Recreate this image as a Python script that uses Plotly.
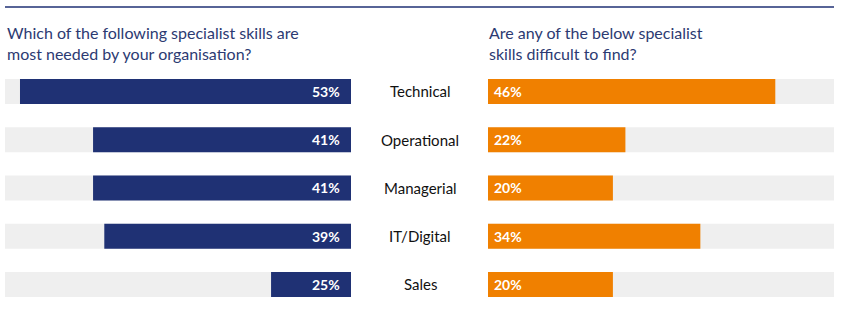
import plotly.graph_objects as go

# ---- data ----
categories = ["Technical", "Operational", "Managerial", "IT/Digital", "Sales"]
needed_labels = [53, 41, 41, 39, 25]          # printed values (left)
needed_bars = [53, 41.3, 41.3, 39.5, 12.8]     # drawn bar lengths (left)
difficult_labels = [46, 22, 20, 34, 20]       # printed values (right)
difficult_bars = [46, 22, 20, 34, 20]          # drawn bar lengths (right)
track_max = 55.4

title_left = "Which of the following specialist skills are<br>most needed by your organisation?"
title_right = "Are any of the below specialist<br>skills difficult to find?"

NAVY = "#1f3174"
ORANGE = "#f08000"
GREY = "#efefef"
FONT = "Lato"

W, H = 853, 327

fig = go.Figure()

# grey tracks
fig.add_trace(go.Bar(y=categories, x=[track_max] * len(categories), orientation="h",
                     marker=dict(color=GREY, line=dict(width=0)), xaxis="x", yaxis="y",
                     hoverinfo="skip", showlegend=False, width=0.518))
fig.add_trace(go.Bar(y=categories, x=[track_max] * len(categories), orientation="h",
                     marker=dict(color=GREY, line=dict(width=0)), xaxis="x2", yaxis="y2",
                     hoverinfo="skip", showlegend=False, width=0.518))
# value bars
fig.add_trace(go.Bar(y=categories, x=needed_bars, orientation="h",
                     marker=dict(color=NAVY, line=dict(width=0)), xaxis="x", yaxis="y",
                     showlegend=False, width=0.518))
fig.add_trace(go.Bar(y=categories, x=difficult_bars, orientation="h",
                     marker=dict(color=ORANGE, line=dict(width=0)), xaxis="x2", yaxis="y2",
                     showlegend=False, width=0.518))

ann = []
for c, v in zip(categories, needed_labels):
    ann.append(dict(x=0, y=c, xref="x", yref="y", text=f"<b>{v}%</b>", showarrow=False,
                    xanchor="right", xshift=-9, font=dict(family=FONT, size=14, color="white")))
for c, v in zip(categories, difficult_labels):
    ann.append(dict(x=0, y=c, xref="x2", yref="y2", text=f"<b>{v}%</b>", showarrow=False,
                    xanchor="left", xshift=4, font=dict(family=FONT, size=14, color="white")))
for c in categories:
    ann.append(dict(x=420 / W, y=c, xref="paper", yref="y", text=c, showarrow=False,
                    xanchor="center", font=dict(family=FONT, size=15, color="#111111")))

ann.append(dict(x=5 / W, y=1 - 21 / H, xref="paper", yref="paper", text=title_left,
                showarrow=False, xanchor="left", yanchor="top", align="left",
                font=dict(family=FONT, size=16, color="#2c3a72")))
ann.append(dict(x=487 / W, y=1 - 21 / H, xref="paper", yref="paper", text=title_right,
                showarrow=False, xanchor="left", yanchor="top", align="left",
                font=dict(family=FONT, size=16, color="#2c3a72")))

yrange = [4.881, -1.896]
fig.update_layout(
    width=W, height=H,
    margin=dict(l=0, r=0, t=0, b=0),
    paper_bgcolor="white", plot_bgcolor="white",
    barmode="overlay",
    xaxis=dict(domain=[5 / W, 351 / W], range=[track_max, 0], visible=False, fixedrange=True),
    xaxis2=dict(domain=[488 / W, 834 / W], range=[0, track_max], visible=False, fixedrange=True),
    yaxis=dict(domain=[0, 1], range=yrange, visible=False, anchor="x", type="category"),
    yaxis2=dict(domain=[0, 1], range=yrange, visible=False, anchor="x2", type="category"),
    annotations=ann,
    shapes=[dict(type="line", xref="paper", yref="paper", x0=5 / W, x1=834 / W,
                 y0=1 - 7 / H, y1=1 - 7 / H, line=dict(color=NAVY, width=1.5))],
)

fig.write_html("out.html")
